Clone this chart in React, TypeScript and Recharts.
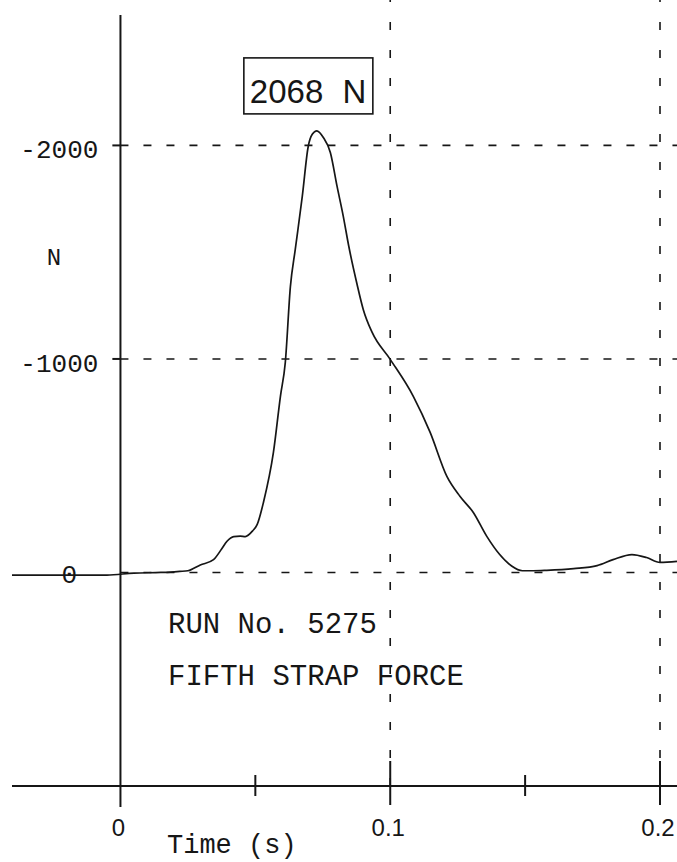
import { Line, LineChart, ReferenceDot, ReferenceLine, XAxis, YAxis } from "recharts";

// time (s) and strap force (N)
const times = [
  -0.0402, -0.02, -0.005, 0.005, 0.015, 0.0185, 0.022, 0.025, 0.0296, 0.0345, 0.0375, 0.0395,
  0.042, 0.0444, 0.0463, 0.049, 0.0507, 0.053, 0.0567, 0.0593, 0.0611, 0.063, 0.0648, 0.0674,
  0.0696, 0.0711, 0.0728, 0.0752, 0.0778, 0.0803, 0.0826, 0.0846, 0.0877, 0.09, 0.0933, 0.1,
  0.1086, 0.1148, 0.121, 0.1259, 0.1308, 0.1358, 0.1405, 0.145, 0.149, 0.153, 0.158, 0.168,
  0.1767, 0.1826, 0.1896, 0.195, 0.2, 0.2063,
];
const forces = [
  -12, -12, -12, -3, 0, 2, 5, 8, 35, 60, 110, 146,
  168, 170, 168, 195, 225, 328, 562, 825, 983, 1340, 1513, 1761,
  1995, 2052, 2068, 2037, 1967, 1808, 1668, 1530, 1350, 1232, 1124, 998,
  824, 656, 450, 356, 281, 169, 85, 30, 8, 8, 10, 18,
  32, 60, 84, 70, 47, 52,
];

const xTicks = [0, 0.05, 0.1, 0.15, 0.2];
const xLabelled = [0, 0.1, 0.2];
const yGrid = [2000, 1000, 0];
const yTickText = ["-2000", "-1000", "0"];
const vGrid = [0.1, 0.2];

const X_DOMAIN: [number, number] = [-0.0402, 0.2063];
const Y_DOMAIN: [number, number] = [-1000, 2681];
const Y_AXIS_TOP = 2611;

const data = times.map((t, i) => ({ t, f: forces[i] }));
const peakIdx = forces.indexOf(Math.max(...forces));
const peak = data[peakIdx];

const INK = "#161616";
const mono = "'Liberation Mono', 'Courier New', monospace";
const sans = "'Liberation Sans', Arial, sans-serif";

function XTick(props: any) {
  const { x, y, payload } = props;
  const v = payload.value as number;
  const long = Math.abs(v - 0.1) < 1e-6 || Math.abs(v - 0.2) < 1e-6;
  let y1 = y - 11;
  let y2 = y + 10;
  if (v === 0) {
    y1 = y;
    y2 = y + 21;
  } else if (long) {
    y1 = y - 25;
    y2 = y + 19;
  }
  const labelled = xLabelled.some((l) => Math.abs(l - v) < 1e-6);
  return (
    <g>
      <line x1={x} x2={x} y1={y1} y2={y2} stroke={INK} strokeWidth={2} />
      {labelled && (
        <text x={x - 2} y={y + 50} textAnchor="middle" fontFamily={sans} fontSize={24} fill={INK}>
          {String(v)}
        </text>
      )}
    </g>
  );
}

function yLabel(text: string, isZero: boolean) {
  return (props: any) => {
    const vb = props.viewBox;
    return (
      <text
        x={isZero ? vb.x - 43 : vb.x - 14}
        y={vb.y + (isZero ? 11 : 13)}
        textAnchor={isZero ? "middle" : "end"}
        fontFamily={mono}
        fontSize={26}
        fill={INK}
      >
        {text}
      </text>
    );
  };
}

function PeakBox(props: any) {
  const vb = props.viewBox;
  const cx = vb.x + (vb.width || 0) / 2;
  const cy = vb.y + (vb.height || 0) / 2;
  return (
    <g>
      <rect x={cx - 73} y={cy - 73} width={129} height={56} fill="#fff" stroke={INK} strokeWidth={1.6} />
      <text x={cx - 67} y={cy - 28} fontFamily={sans} fontSize={33} fill={INK} wordSpacing={10}>
        {`${peak.f} N`}
      </text>
    </g>
  );
}

export default function App() {
  return (
    <div style={{ position: "absolute", left: 0, top: 0, width: 677, height: 862, background: "#fff" }}>
      <LineChart width={677} height={862} data={data} margin={{ top: 0, right: 0, left: 12, bottom: 0 }}>
        <XAxis
          dataKey="t"
          type="number"
          domain={X_DOMAIN}
          allowDataOverflow
          ticks={xTicks}
          interval={0}
          height={76}
          tickSize={0}
          tickMargin={0}
          tickLine={false}
          axisLine={{ stroke: INK, strokeWidth: 2 }}
          tick={<XTick />}
        />
        <YAxis type="number" domain={Y_DOMAIN} allowDataOverflow hide />
        {yGrid.map((v) => (
          <ReferenceLine
            key={`h${v}`}
            segment={[{ x: 0, y: v }, { x: X_DOMAIN[1], y: v }]}
            stroke={INK}
            strokeWidth={1.6}
            strokeDasharray="8 15"
          />
        ))}
        {vGrid.map((v) => (
          <ReferenceLine key={`v${v}`} x={v} stroke={INK} strokeWidth={1.6} strokeDasharray="8 20" />
        ))}
        <ReferenceLine
          segment={[{ x: 0, y: Y_AXIS_TOP }, { x: 0, y: Y_DOMAIN[0] }]}
          stroke={INK}
          strokeWidth={2}
        />
        {yGrid.map((v, i) => (
          <ReferenceLine
            key={`yt${v}`}
            segment={[{ x: -0.003, y: v }, { x: 0, y: v }]}
            stroke={v === 0 ? "none" : INK}
            strokeWidth={2}
            label={yLabel(yTickText[i], v === 0)}
          />
        ))}
        <Line
          type="monotone"
          dataKey="f"
          stroke={INK}
          strokeWidth={1.7}
          dot={false}
          isAnimationActive={false}
        />
        <ReferenceDot x={peak.t} y={peak.f} r={0} stroke="none" fill="none" label={<PeakBox />} />
      </LineChart>
      <svg
        width={677}
        height={862}
        style={{ position: "absolute", left: 0, top: 0, pointerEvents: "none" }}
      >
        <text x={54} y={265} textAnchor="middle" fontFamily={mono} fontSize={24} fill={INK}>
          N
        </text>
        <text x={168} y={633} fontFamily={mono} fontSize={29} fill={INK}>
          RUN No. 5275
        </text>
        <text x={168} y={685} fontFamily={mono} fontSize={29} fill={INK}>
          FIFTH STRAP FORCE
        </text>
        <text x={167} y={853} fontFamily={mono} fontSize={27} fill={INK}>
          Time (s)
        </text>
      </svg>
    </div>
  );
}
